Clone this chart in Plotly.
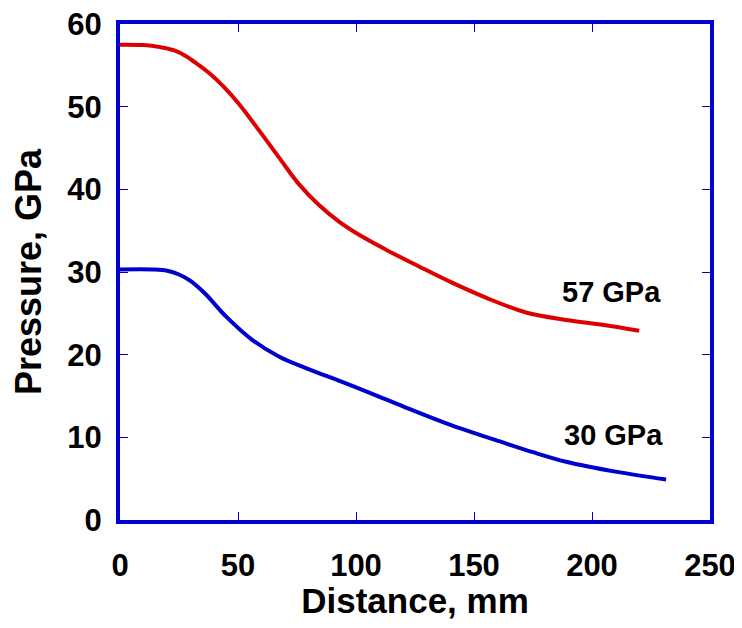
import plotly.graph_objects as go

# Data
dist_57 = [0, 10, 17, 23, 28, 33, 38, 44, 50.5, 59, 67.5, 75.9, 84.3, 92.8, 101.3, 112.7, 126.5, 140, 155, 172, 189, 205, 220]
pres_57 = [57.5, 57.45, 57.2, 56.8, 56.1, 55.1, 54.0, 52.4, 50.3, 47.1, 43.8, 40.6, 38.1, 36.1, 34.5, 32.7, 30.7, 28.8, 26.9, 25.1, 24.2, 23.6, 22.9]

dist_30 = [0, 14, 20, 25, 30, 36, 45, 56, 67.5, 79, 96, 110, 122, 140, 161, 175, 189, 210, 231.4]
pres_30 = [30.3, 30.3, 30.15, 29.7, 28.9, 27.4, 24.6, 21.8, 19.75, 18.35, 16.5, 14.9, 13.5, 11.5, 9.5, 8.2, 7.05, 5.85, 4.9]

x_ticks = [0, 50, 100, 150, 200, 250]
y_ticks = [0, 10, 20, 30, 40, 50, 60]

labels = ["57 GPa", "30 GPa"]
label_x = [208.4, 209]
label_y = [27.6, 10.3]

FONT = "Liberation Sans, Arial, sans-serif"
BLUE = "#0000CC"

fig = go.Figure()
fig.add_trace(go.Scatter(x=dist_57, y=pres_57, mode="lines", line=dict(color="#DD0000", width=4, shape="spline", smoothing=1.0), showlegend=False))
fig.add_trace(go.Scatter(x=dist_30, y=pres_30, mode="lines", line=dict(color="#0000CC", width=4, shape="spline", smoothing=1.0), showlegend=False))

for t, xx, yy in zip(labels, label_x, label_y):
    fig.add_annotation(x=xx, y=yy, text=t, showarrow=False, font=dict(family=FONT, size=29, color="black", weight="bold"))

axis_common = dict(showgrid=False, zeroline=False, showline=True, linewidth=4, linecolor=BLUE, mirror="ticks",
                   ticks="inside", ticklen=8, tickwidth=1, tickcolor=BLUE, automargin=False,
                   ticklabeloverflow="allow",
                   tickfont=dict(family=FONT, size=31, color="black", weight="bold"))

fig.update_xaxes(range=[0, 250], tickvals=x_ticks, ticktext=[str(v) for v in x_ticks], ticklabelstandoff=15,
                 title=dict(text="Distance, mm", font=dict(family=FONT, size=35, color="black", weight="bold"), standoff=5),
                 **axis_common)
fig.update_yaxes(range=[0, 60], tickvals=y_ticks, ticktext=[str(v) for v in y_ticks], ticklabelstandoff=8,
                 title=dict(text="Pressure, GPa", font=dict(family=FONT, size=36, color="black", weight="bold"), standoff=16),
                 **axis_common)

# page body has an 8px margin: size the figure so plot area lands at the reference position
fig.update_layout(width=734, height=612, margin=dict(l=112, r=32, t=16, b=100),
                  plot_bgcolor="white", paper_bgcolor="white", font=dict(family=FONT))

fig.write_html("out.html")
